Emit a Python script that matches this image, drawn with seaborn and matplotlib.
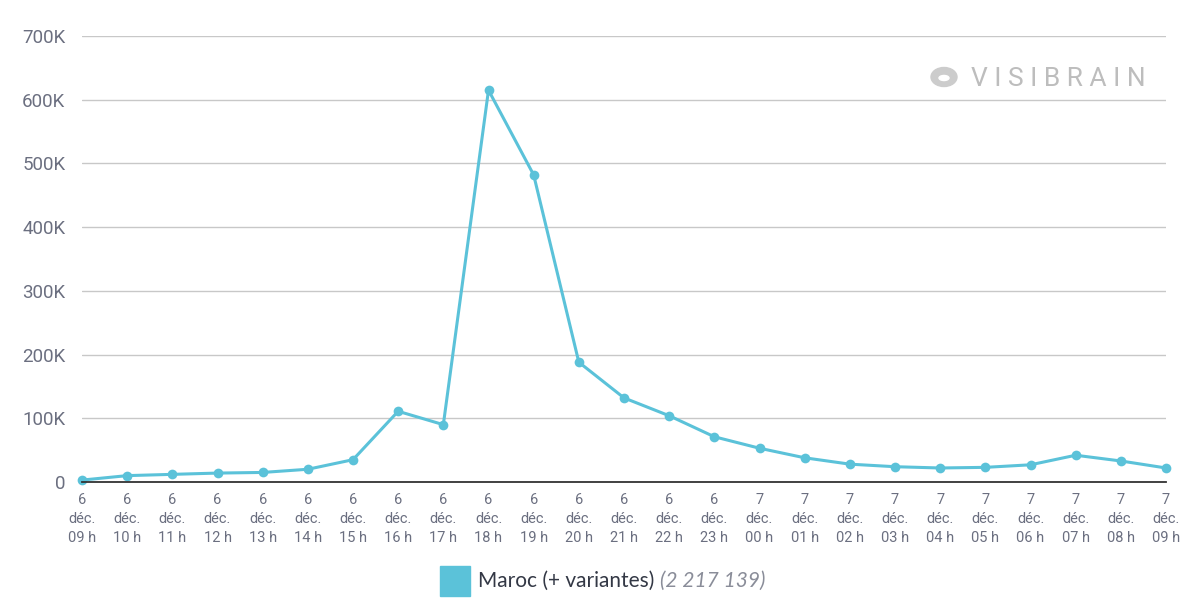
import matplotlib
matplotlib.use("Agg")
import matplotlib.pyplot as plt
import seaborn as sns
import pandas as pd
from matplotlib.patches import Rectangle, Ellipse, Circle

days = ["6"] * 15 + ["7"] * 10
hours = ["09", "10", "11", "12", "13", "14", "15", "16", "17", "18", "19", "20", "21", "22", "23",
         "00", "01", "02", "03", "04", "05", "06", "07", "08", "09"]
values = [3000, 10000, 12000, 14000, 15000, 20000, 35000, 111000, 90000, 615000, 482000, 188000,
          132000, 104000, 71000, 53000, 38000, 28000, 24000, 22000, 23000, 27000, 42000, 33000, 22000]
series_name = "Maroc (+ variantes)"
total_label = "(2 217 139)"
yticks = [0, 100000, 200000, 300000, 400000, 500000, 600000, 700000]
ytick_labels = ["0", "100K", "200K", "300K", "400K", "500K", "600K", "700K"]

sns.set_theme(style="white")
plt.rcParams["font.family"] = ["Lato", "DejaVu Sans"]

df = pd.DataFrame({"i": range(len(values)), "v": values})
color = "#5bc2d9"
tick_color = "#6b6f80"

fig = plt.figure(figsize=(12, 6.1), dpi=100)
ax = fig.add_axes([82 / 1200, 1 - 482 / 610, (1166 - 82) / 1200, (482 - 36) / 610])
sns.lineplot(data=df, x="i", y="v", ax=ax, color=color, linewidth=2.2, marker="o",
             markersize=7, markeredgewidth=0, clip_on=False)
ax.set_xlim(0, len(values) - 1)
ax.set_ylim(0, 700000)
ax.set_yticks(yticks)
ax.set_yticklabels(ytick_labels, fontfamily="Roboto")
ax.set_xticks(range(len(values)))
ax.set_xticklabels([f"{d}\ndéc.\n{h} h" for d, h in zip(days, hours)], linespacing=1.45,
                   fontfamily="Roboto")
ax.tick_params(axis="x", colors=tick_color, labelsize=10.5, length=0, pad=8)
ax.tick_params(axis="y", colors=tick_color, labelsize=13.5, length=0, pad=12)
ax.yaxis.grid(True, color="#c8c8c8", linewidth=1)
ax.set_axisbelow(True)
for s in ["top", "right", "left"]:
    ax.spines[s].set_visible(False)
ax.spines["bottom"].set_color("#333333")
ax.spines["bottom"].set_linewidth(1.3)
ax.set_xlabel("")
ax.set_ylabel("")

# watermark
fig.text(1146 / 1200, 1 - 79 / 610, "V I S I B R A I N", ha="right", va="center", fontsize=19,
         color="#bdbdbd", fontfamily="Roboto", fontweight="normal")
fig.patches.append(Ellipse((944 / 1200, 1 - 77 / 610), 26 / 1200, 19 / 610,
                           transform=fig.transFigure, color="#cccccc"))
fig.patches.append(Circle((944 / 1200, 1 - 78 / 610), 5 / 1200,
                          transform=fig.transFigure, color="white"))

# legend
fig.patches.append(Rectangle((440 / 1200, 1 - 596 / 610), 30 / 1200, 30 / 610,
                             transform=fig.transFigure, color=color))
t1 = fig.text(478 / 1200, 1 - 581 / 610, series_name, ha="left", va="center", fontsize=15,
              color="#333845")
fig.canvas.draw()
bb = t1.get_window_extent()
fig.text(bb.x1 / 1200 + 6 / 1200, 1 - 581 / 610, total_label, ha="left", va="center", fontsize=15,
         color="#8a8d99", style="italic")

fig.savefig("out.png", dpi=100)
